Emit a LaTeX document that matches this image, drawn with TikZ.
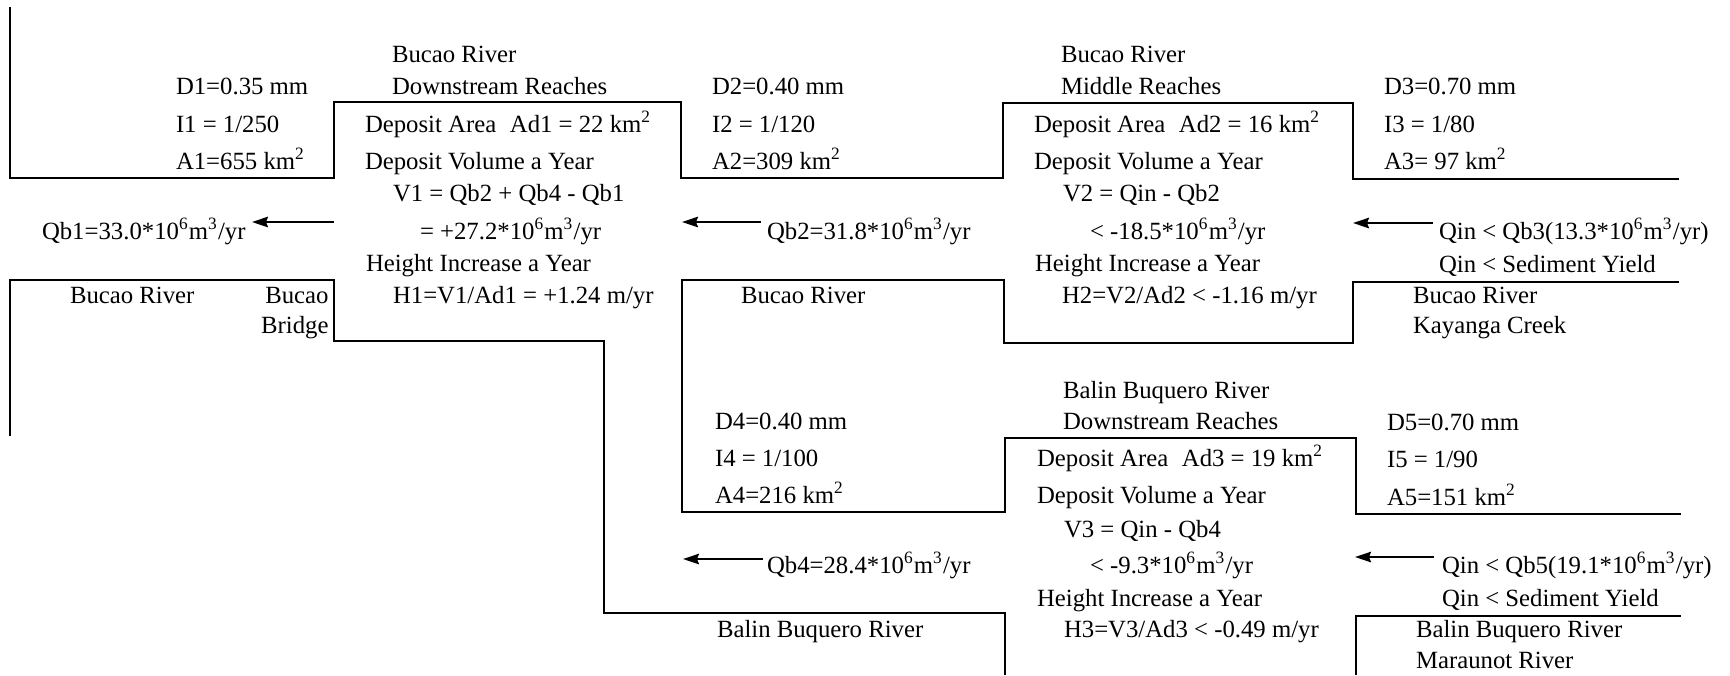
\documentclass[tikz,border=0pt]{standalone}
\usepackage{fontspec}
\setmainfont{Liberation Serif}
\usetikzlibrary{arrows.meta}

\newcommand{\sq}{\textsuperscript{2}}
\newcommand{\flux}[1]{#1*10\textsuperscript{6}m\textsuperscript{3}/yr}

\begin{document}
\begin{tikzpicture}[x=0.4pt,y=-0.4pt,
    font=\fontsize{9.9}{12}\selectfont,
    lbl/.style={anchor=base west, inner sep=0pt, outer sep=0pt},
    bank/.style={line width=0.8pt, line join=miter},
    flow/.style={line width=0.8pt, -{Stealth[length=6.4pt,width=4.2pt,inset=0.8pt]}}]
  \useasboundingbox (0,0) rectangle (1730,675);

  % river banks
  \draw[bank] (10,7) -- (10,178) -- (334,178) -- (334,102) -- (681,102) -- (681,178)
    -- (1003,178) -- (1003,103) -- (1353,103) -- (1353,179) -- (1679,179);
  \draw[bank] (10,436) -- (10,280) -- (334,280) -- (334,341) -- (604,341) -- (604,613)
    -- (1005,613) -- (1005,675);
  \draw[bank] (1679,282) -- (1353,282) -- (1353,343) -- (1004,343) -- (1004,280) -- (682,280)
    -- (682,512) -- (1005,512) -- (1005,438) -- (1356,438) -- (1356,514) -- (1681,514);
  \draw[bank] (1356,675) -- (1356,616) -- (1681,616);

  % sediment discharge arrows
  \coordinate (q1s) at (334,222);  \coordinate (q1e) at (252,222);
  \coordinate (q2s) at (761,222);  \coordinate (q2e) at (682,222);
  \coordinate (q3s) at (1433,223); \coordinate (q3e) at (1353,223);
  \coordinate (q4s) at (763,559);  \coordinate (q4e) at (683,559);
  \coordinate (q5s) at (1434,557); \coordinate (q5e) at (1355,557);
  \draw[flow] (q1s) -- (q1e);
  \draw[flow] (q2s) -- (q2e);
  \draw[flow] (q3s) -- (q3e);
  \draw[flow] (q4s) -- (q4e);
  \draw[flow] (q5s) -- (q5e);

  % Bucao River, downstream
  \node[lbl] (d1) at (176,94)  {D1=0.35 mm};
  \node[lbl] (i1) at (176,132) {I1 = 1/250};
  \node[lbl] (a1) at (176,169) {A1=655 km\sq};
  \node[lbl] (qb1) at (42,239) {Qb1=\flux{33.0}};
  \node[lbl] (riv1) at (70,303) {Bucao River};
  \node[anchor=base east, inner sep=0pt] (brga) at (329,303) {Bucao};
  \node[anchor=base east, inner sep=0pt] (brgb) at (329,333) {Bridge};

  % reach 1
  \node[lbl] (tta) at (392,62)  {Bucao River};
  \node[lbl] (ttb) at (392,94)  {Downstream Reaches};
  \node[lbl] (ad1) at (365,132) {Deposit Area\hspace{0.55em}Ad1 = 22 km\sq};
  \node[lbl] (vol1) at (365,169) {Deposit Volume a Year};
  \node[lbl] (v1) at (393,201)  {V1 = Qb2 + Qb4 - Qb1};
  \node[lbl] (v1b) at (420,239) {= +\flux{27.2}};
  \node[lbl] (hgt1) at (366,271) {Height Increase a Year};
  \node[lbl] (h1) at (393,303)  {H1=V1/Ad1 = +1.24 m/yr};

  % between reach 1 and reach 2
  \node[lbl] (d2) at (712,94)  {D2=0.40 mm};
  \node[lbl] (i2) at (712,132) {I2 = 1/120};
  \node[lbl] (a2) at (712,169) {A2=309 km\sq};
  \node[lbl] (qb2) at (767,239) {Qb2=\flux{31.8}};
  \node[lbl] (riv2) at (741,303) {Bucao River};

  % reach 2
  \node[lbl] (tma) at (1061,62)  {Bucao River};
  \node[lbl] (tmb) at (1061,94)  {Middle Reaches};
  \node[lbl] (ad2) at (1034,132) {Deposit Area\hspace{0.55em}Ad2 = 16 km\sq};
  \node[lbl] (vol2) at (1034,169) {Deposit Volume a Year};
  \node[lbl] (v2) at (1063,201)  {V2 = Qin - Qb2};
  \node[lbl] (v2b) at (1090,239) {< -\flux{18.5}};
  \node[lbl] (hgt2) at (1035,271) {Height Increase a Year};
  \node[lbl] (h2) at (1062,303)  {H2=V2/Ad2 < -1.16 m/yr};

  % upstream of reach 2
  \node[lbl] (d3) at (1384,94)  {D3=0.70 mm};
  \node[lbl] (i3) at (1384,132) {I3 = 1/80};
  \node[lbl] (a3) at (1384,169) {A3= 97 km\sq};
  \node[lbl] (qin3) at (1439,239) {Qin < Qb3(\flux{13.3})};
  \node[lbl] (sed3) at (1439,272) {Qin < Sediment Yield};
  \node[lbl] (riv3a) at (1413,303) {Bucao River};
  \node[lbl] (riv3b) at (1413,333) {Kayanga Creek};

  % Balin Buquero River, downstream
  \node[lbl] (d4) at (715,429) {D4=0.40 mm};
  \node[lbl] (i4) at (715,466) {I4 = 1/100};
  \node[lbl] (a4) at (715,503) {A4=216 km\sq};
  \node[lbl] (qb4) at (767,573) {Qb4=\flux{28.4}};
  \node[lbl] (riv4) at (717,637) {Balin Buquero River};

  % reach 3
  \node[lbl] (tba) at (1063,398) {Balin Buquero River};
  \node[lbl] (tbb) at (1063,429) {Downstream Reaches};
  \node[lbl] (ad3) at (1037,466) {Deposit Area\hspace{0.55em}Ad3 = 19 km\sq};
  \node[lbl] (vol3) at (1037,503) {Deposit Volume a Year};
  \node[lbl] (v3) at (1064,537)  {V3 = Qin - Qb4};
  \node[lbl] (v3b) at (1090,573) {< -\flux{9.3}};
  \node[lbl] (hgt3) at (1037,606) {Height Increase a Year};
  \node[lbl] (h3) at (1064,637)  {H3=V3/Ad3 < -0.49 m/yr};

  % upstream of reach 3
  \node[lbl] (d5) at (1387,430) {D5=0.70 mm};
  \node[lbl] (i5) at (1387,467) {I5 = 1/90};
  \node[lbl] (a5) at (1387,505) {A5=151 km\sq};
  \node[lbl] (qin5) at (1442,573) {Qin < Qb5(\flux{19.1})};
  \node[lbl] (sed5) at (1442,606) {Qin < Sediment Yield};
  \node[lbl] (riv5a) at (1416,637) {Balin Buquero River};
  \node[lbl] (riv5b) at (1416,668) {Maraunot River};
\end{tikzpicture}
\end{document}
